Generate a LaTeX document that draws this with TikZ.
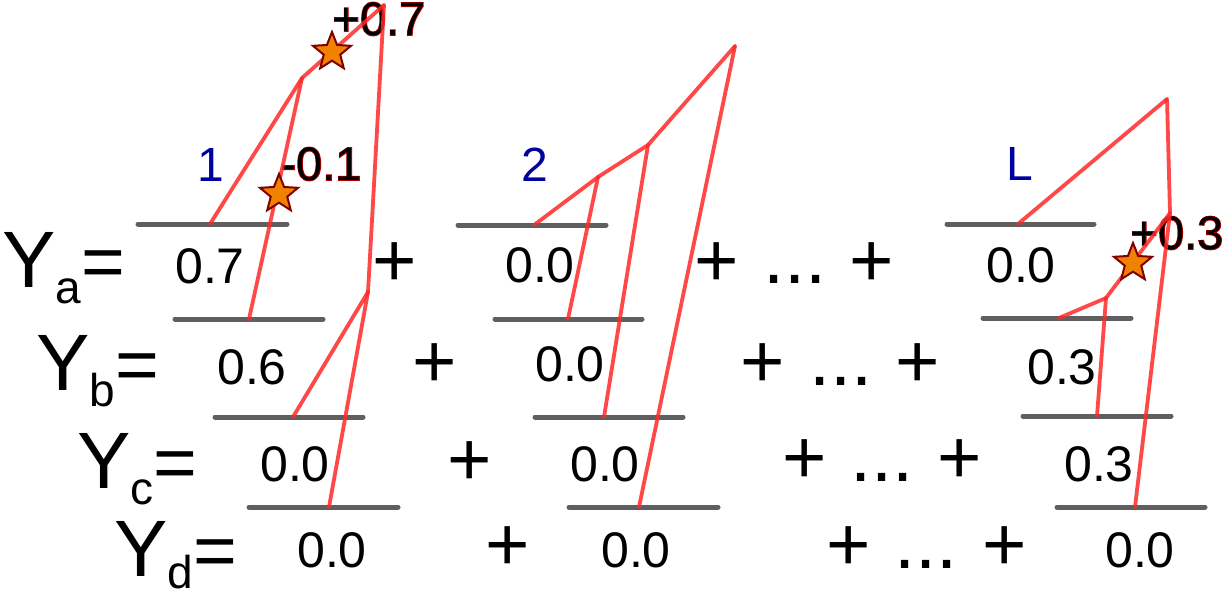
\documentclass[tikz,border=0pt]{standalone}
\usepackage{fontspec}
\setmainfont{Liberation Sans}
\newfontfamily\outlinefont[FakeBold=3]{Liberation Sans}
\usetikzlibrary{shapes.geometric}
\definecolor{edgered}{RGB}{255,40,40}
\definecolor{rulegray}{RGB}{95,95,95}
\definecolor{labelblue}{RGB}{0,0,160}
\definecolor{starfill}{RGB}{240,130,0}
\definecolor{starline}{RGB}{128,0,0}
\definecolor{glowred}{RGB}{185,0,0}
\newcommand{\glowtext}[1]{\makebox[0pt][l]{\outlinefont\color{glowred}#1}#1}
\newcommand{\rowlab}[2][-16pt]{\fontsize{80}{80}\selectfont Y\raisebox{#1}{\fontsize{46}{46}\selectfont #2}{\fontsize{75}{75}\selectfont =}}
\tikzset{
  rule/.style={draw=rulegray, line width=5pt, line cap=round},
  edge/.style={draw=edgered, line width=3.8pt, opacity=0.85, line cap=round, line join=round},
  num/.style={inner sep=0pt, font=\fontsize{50}{50}\selectfont},
  op/.style={inner sep=0pt, font=\fontsize{76}{76}\selectfont},
  treelabel/.style={inner sep=0pt, text=labelblue, font=\fontsize{48}{48}\selectfont},
  gain/.style={inner sep=0pt, font=\fontsize{47}{47}\selectfont},
  gainstar/.style={star, star points=5, star point ratio=2.3, minimum size=40pt, inner sep=0pt, fill=starfill, draw=starline, line width=2pt},
  rowlabel/.style={inner sep=0pt, anchor=base west}
}
\begin{document}
\begin{tikzpicture}[x=1pt,y=-1pt]
\useasboundingbox (0,0) rectangle (1222,595);

% row labels
\node[rowlabel] (ya) at (2,287) {\rowlab{a}};
\node[rowlabel] (yb) at (36,390) {\rowlab{b}};
\node[rowlabel] (yc) at (77,488) {\rowlab{c}};
\node[rowlabel] (yd) at (114,576) {\rowlab[-12pt]{d}};

% gray rules: tree 1
\coordinate (g1a1) at (138,224); \coordinate (g1a2) at (287,224);
\coordinate (g1b1) at (175,319); \coordinate (g1b2) at (323,319);
\coordinate (g1c1) at (215,417); \coordinate (g1c2) at (363,417);
\coordinate (g1d1) at (249,507); \coordinate (g1d2) at (398,507);
% tree 2
\coordinate (g2a1) at (458,225); \coordinate (g2a2) at (606,225);
\coordinate (g2b1) at (495,319); \coordinate (g2b2) at (642,319);
\coordinate (g2c1) at (535,417); \coordinate (g2c2) at (683,417);
\coordinate (g2d1) at (569,507); \coordinate (g2d2) at (718,507);
% tree L
\coordinate (gLa1) at (947,224); \coordinate (gLa2) at (1094,224);
\coordinate (gLb1) at (983,318); \coordinate (gLb2) at (1131,318);
\coordinate (gLc1) at (1023,416); \coordinate (gLc2) at (1171,416);
\coordinate (gLd1) at (1057,507); \coordinate (gLd2) at (1205,507);

\foreach \t in {1,2,L}{
  \foreach \r in {a,b,c,d}{
    \draw[rule] (g\t\r1) -- (g\t\r2);
  }
}

% numbers
\node[num] (v1a) at (210,266) {0.7};
\node[num] (v1b) at (252,367) {0.6};
\node[num] (v1c) at (295,464) {0.0};
\node[num] (v1d) at (332,550) {0.0};
\node[num] (v2a) at (540,265) {0.0};
\node[num] (v2b) at (570,364) {0.0};
\node[num] (v2c) at (605,464) {0.0};
\node[num] (v2d) at (636,550) {0.0};
\node[num] (vLa) at (1021,265) {0.0};
\node[num] (vLb) at (1062,367) {0.3};
\node[num] (vLc) at (1099,464) {0.3};
\node[num] (vLd) at (1140,550) {0.0};

% operators
\node[op] (pa1) at (395,265) {+};
\node[op] (pa2) at (717,265) {+};
\node[op] (da)  at (795,279) {...};
\node[op] (pa3) at (872,265) {+};
\node[op] (pb1) at (435,366) {+};
\node[op] (pb2) at (763,366) {+};
\node[op] (db)  at (841,381) {...};
\node[op] (pb3) at (918,366) {+};
\node[op] (pc1) at (470,464) {+};
\node[op] (pc2) at (805,462) {+};
\node[op] (dc)  at (882,477) {...};
\node[op] (pc3) at (960,462) {+};
\node[op] (pd1) at (508,549) {+};
\node[op] (pd2) at (849,549) {+};
\node[op] (dd)  at (926,564) {...};
\node[op] (pd3) at (1005,549) {+};

% tree labels
\node[treelabel] (t1) at (211,165) {1};
\node[treelabel] (t2) at (535,165) {2};
\node[treelabel] (tL) at (1020,164) {L};

% gain labels
\node[gain] (gain1) at (379,19) {\glowtext{+0.7}};
\node[gain] (gain2) at (321,164) {\glowtext{-0.1}};
\node[gain] (gain3) at (1177,233) {\glowtext{+0.3}};

% tree 1
\coordinate (r1) at (384,5);
\coordinate (n11) at (302,78);
\coordinate (n12) at (368,292);
\coordinate (a1) at (210,224);
\coordinate (b1) at (249,319);
\coordinate (c1) at (293,417);
\coordinate (d1) at (329,507);
\draw[edge] (r1) -- (n11);
\draw[edge] (r1) -- (n12);
\draw[edge] (n11) -- (a1);
\draw[edge] (n11) -- (b1);
\draw[edge] (n12) -- (c1);
\draw[edge] (n12) -- (d1);

% tree 2
\coordinate (r2) at (735,46);
\coordinate (m1) at (598,177);
\coordinate (m2) at (648,145);
\coordinate (a2) at (534,225);
\coordinate (b2) at (568,319);
\coordinate (c2) at (604,417);
\coordinate (d2) at (639,507);
\draw[edge] (a2) -- (m1);
\draw[edge] (m1) -- (m2);
\draw[edge] (m2) -- (r2);
\draw[edge] (m1) -- (b2);
\draw[edge] (m2) -- (c2);
\draw[edge] (r2) -- (d2);

% tree L
\coordinate (rL) at (1167,99);
\coordinate (jL) at (1170,213);
\coordinate (kL) at (1106,298);
\coordinate (aL) at (1018,224);
\coordinate (bL) at (1059,318);
\coordinate (cL) at (1097,416);
\coordinate (dL) at (1135,507);
\draw[edge] (aL) -- (rL);
\draw[edge] (rL) -- (jL);
\draw[edge] (jL) -- (kL);
\draw[edge] (jL) -- (dL);
\draw[edge] (kL) -- (bL);
\draw[edge] (kL) -- (cL);

% stars
\node[gainstar] (s1) at (332,52) {};
\node[gainstar] (s2) at (279,194) {};
\node[gainstar] (s3) at (1133,263) {};
\end{tikzpicture}
\end{document}
